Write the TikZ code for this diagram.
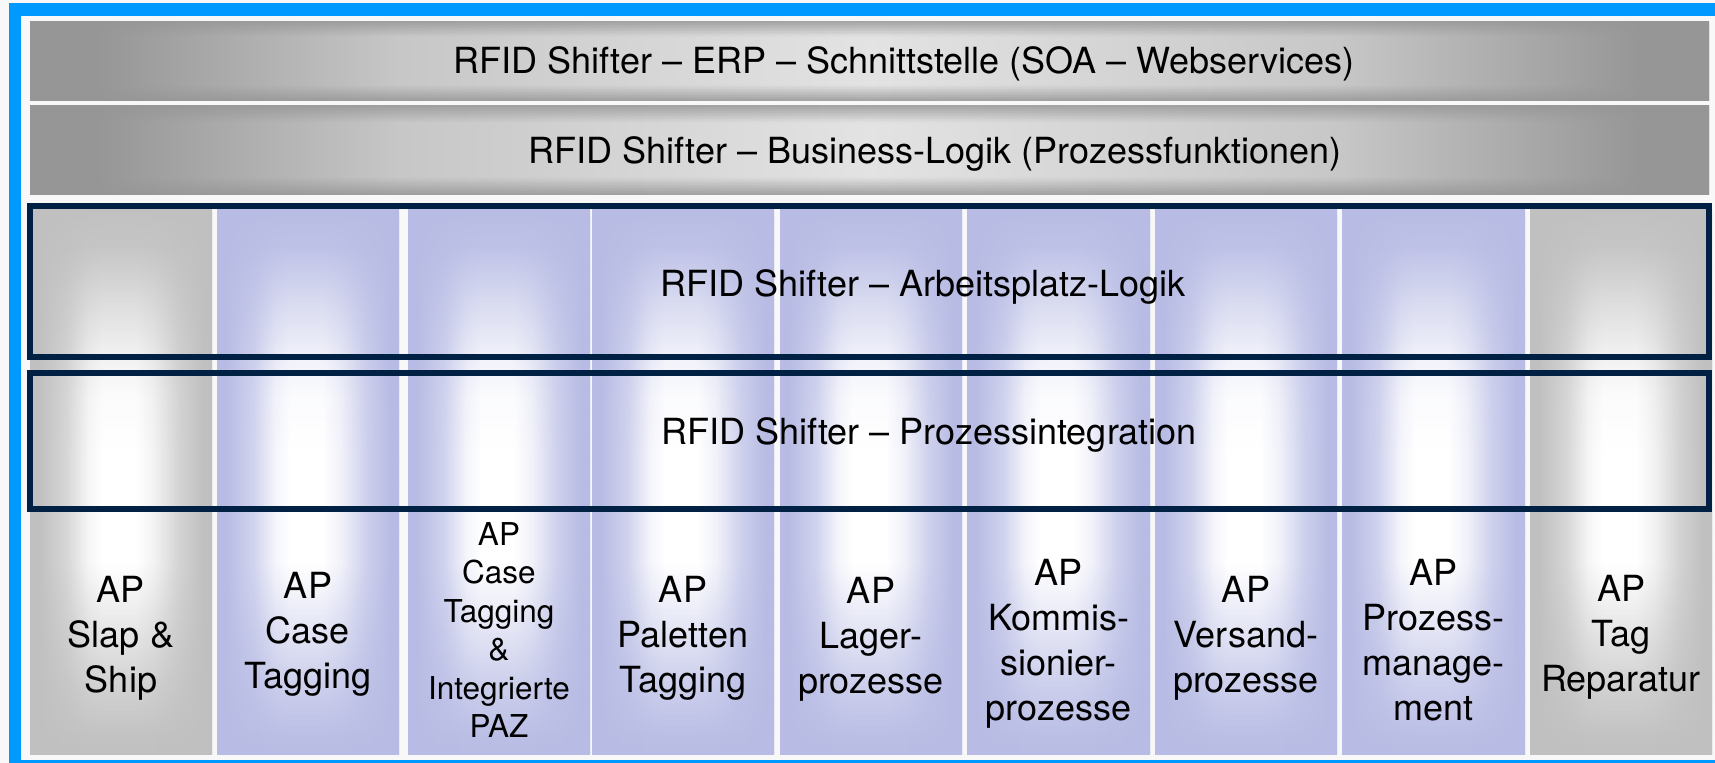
\documentclass[tikz,border=0pt]{standalone}
\usepackage{fontspec}
\setmainfont{TeX Gyre Heros}
\definecolor{bgc}{RGB}{248,248,248}
\definecolor{framec}{RGB}{0,153,255}
\definecolor{boxc}{RGB}{0,32,68}
\definecolor{lav}{RGB}{184,188,228}
\definecolor{gcol}{RGB}{192,192,192}
\definecolor{bA}{gray}{0.588}
\definecolor{bB}{gray}{0.773}
\definecolor{bC}{gray}{0.88}
\definecolor{cE}{RGB}{184,188,228}
\definecolor{cM}{RGB}{255,255,255}
\definecolor{cP}{RGB}{200,200,240}
\definecolor{cQ}{RGB}{240,240,250}
\definecolor{cR}{RGB}{240,240,250}
\definecolor{cS}{RGB}{200,200,240}
\pgfdeclarehorizontalshading[bA,bB,bC]{barsh}{100bp}{color(0bp)=(bA); color(25bp)=(bA); color(27bp)=(bA); color(36bp)=(bB); color(50bp)=(bC); color(64bp)=(bB); color(73bp)=(bA); color(75bp)=(bA); color(100bp)=(bA)}
\pgfdeclarehorizontalshading[cE,cM,cP,cQ,cR,cS]{colsh}{100bp}{color(0bp)=(cE); color(25bp)=(cE); color(27.5bp)=(cE); color(35bp)=(cP); color(41bp)=(cQ); color(45bp)=(cM); color(54bp)=(cM); color(59bp)=(cR); color(66bp)=(cS); color(72.5bp)=(cE); color(75bp)=(cE); color(100bp)=(cE)}
\newcommand\colstrips[3]{%
  \colorlet{cE}{#3}%
  \foreach \ya/\yb/\ta/\tb in {210/250/0/0.1, 250/300/0.1/0.45, 300/355/0.45/0.78, 355/400/0.78/0.95, 400/450/0.95/1, 450/565/1/1, 565/625/1/0.65, 625/685/0.65/0.3, 685/735/0.3/0.05, 735/755/0.05/0}{%
    \pgfmathtruncatemacro\nn{max(1,round((\yb-\ya)/3))}%
    \foreach \i in {1,...,\nn}{%
      \pgfmathsetmacro\yy{\ya+(\i-1)*(\yb-\ya)/\nn}%
      \pgfmathsetmacro\yz{\ya+\i*(\yb-\ya)/\nn}%
      \pgfmathsetmacro\yw{\yb<755 ? \yz+1 : (\i<\nn ? \yz+1 : \yz)}%
      \pgfmathtruncatemacro\pc{100*(\ta+(\tb-\ta)*(\i-0.5)/\nn)}%
      \colorlet{cM}{white!\pc!#3}%
      \colorlet{cP}{cM!35!cE}%
      \colorlet{cQ}{cM!85!cE}%
      \colorlet{cR}{cM!80!cE}%
      \colorlet{cS}{cM!30!cE}%
      \fill[shading=colsh] (#1,\yy) rectangle (#2,\yw);
    }%
  }%
}
\newcommand\barstrips[2]{%
  \pgfmathsetmacro\bh{#2-#1}%
  \pgfmathtruncatemacro\bn{round(\bh/2)}%
  \foreach \i in {1,...,\bn}{%
    \pgfmathsetmacro\ya{#1+(\i-1)*\bh/\bn}%
    \pgfmathsetmacro\yb{#1+\i*\bh/\bn}%
    \pgfmathsetmacro\yc{\i<\bn ? \yb+1 : \yb}%
    \pgfmathsetmacro\uu{(\i-0.5)/\bn}%
    \pgfmathsetmacro\ff{0.15+0.85*min(1,min(\uu,1-\uu)/0.2)}%
    \pgfmathsetmacro\gB{0.588+\ff*(0.78-0.588)}%
    \pgfmathsetmacro\gC{0.588+\ff*(0.89-0.588)}%
    \definecolor{bB}{gray}{\gB}%
    \definecolor{bC}{gray}{\gC}%
    \fill[shading=barsh] (30,\ya) rectangle (1709,\yc);
  }%
}
\tikzset{
  bandtext/.style={font=\fontsize{18}{22.5}\selectfont, inner sep=0pt, anchor=base},
  aptext/.style={font=\fontsize{18}{22.5}\selectfont, inner sep=0pt, align=center},
  aptextsmall/.style={font=\fontsize{15.75}{19.25}\selectfont, inner sep=0pt, align=center},
  layerbox/.style={draw=boxc, line width=3pt},
  framepart/.style={fill=framec, draw=none}
}
\begin{document}
\begin{tikzpicture}[x=0.5pt,y=-0.5pt]
\useasboundingbox (0,0) rectangle (1715,763);
\fill[bgc] (0,0) rectangle (1715,763);
% blue frame (left, top, bottom; the right side lies beyond the picture)
\fill[framepart] (9,3) rectangle (21,763);
\fill[framepart] (9,3) rectangle (1715,16);
\fill[framepart] (9,760) rectangle (1715,763);
\fill[bgc] (1712,16) rectangle (1715,760);
% grey bars
\barstrips{22}{101}
\barstrips{106}{195}
% columns
\foreach \xa/\xb/\cc in {30/212/gcol, 217/399/lav, 408/590/lav, 592/774/lav, 780/962/lav, 967/1150/lav, 1155/1337/lav, 1342/1525/lav, 1530/1712/gcol}{
  \colstrips{\xa}{\xb}{\cc}
}
% layer boxes
\draw[layerbox] (30,206) rectangle (1709,357.5);
\draw[layerbox] (30,373) rectangle (1709,509);
% band texts
\node[bandtext] (t1) at (904,74) {RFID Shifter – ERP – Schnittstelle (SOA – Webservices)};
\node[bandtext] (t2) at (935,164) {RFID Shifter – Business-Logik (Prozessfunktionen)};
\node[bandtext] (t3) at (923,297) {RFID Shifter – Arbeitsplatz-Logik};
\node[bandtext] (t4) at (929,445) {RFID Shifter – Prozessintegration};
% column texts
\node[aptext] (c1) at (121,638) {AP\\Slap \&\\Ship};
\node[aptext] (c2) at (308,634) {AP\\Case\\Tagging};
\node[aptextsmall] (c3) at (499,630) {AP\\Case\\Tagging\\\&\\Integrierte\\PAZ};
\node[aptext] (c4) at (683,638) {AP\\Paletten\\Tagging};
\node[aptext] (c5) at (871,639) {AP\\Lager-\\prozesse};
\node[aptext] (c6) at (1058.5,644) {AP\\Kommis-\\sionier-\\prozesse};
\node[aptext] (c7) at (1246,638) {AP\\Versand-\\prozesse};
\node[aptext] (c8) at (1433.5,640) {AP\\Prozess-\\manage-\\ment};
\node[aptext] (c9) at (1621,637) {AP\\Tag\\Reparatur};
\end{tikzpicture}
\end{document}
